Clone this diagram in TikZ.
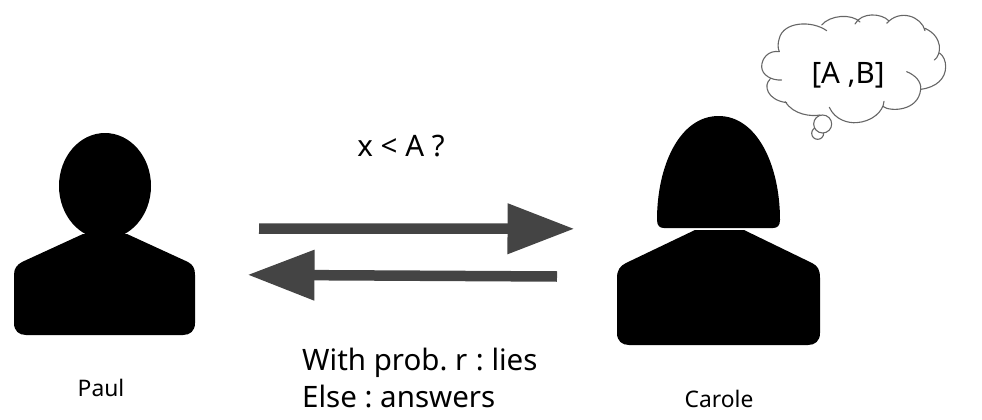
\documentclass[tikz,border=0pt]{standalone}
\usepackage{fontspec}
\setmainfont{Noto Sans}
\usetikzlibrary{arrows.meta}
\definecolor{arrowgrey}{HTML}{444444}
\definecolor{cloudgrey}{HTML}{666666}
\frenchspacing
\tikzset{
  figure/.style={fill=black,draw=none},
  namelabel/.style={font=\fontsize{22.8}{26}\selectfont,inner sep=0pt,text=black},
  saylabel/.style={font=\fontsize{29.5}{37}\selectfont,inner sep=0pt,text=black},
  bigarrow/.style={draw=arrowgrey,line width=10.5pt,-{Triangle[length=67pt,width=48pt,fill=arrowgrey]}},
  cloudline/.style={draw=cloudgrey,line width=1.1pt,line cap=round}
}
\begin{document}
\begin{tikzpicture}[x=1pt,y=-1pt]
\useasboundingbox (0,0) rectangle (982,420);
% Paul
\fill[figure] (14,275) .. controls (14,268) and (17,265) .. (22,262) -- (83,234) -- (127,234) -- (188,262) .. controls (193,265) and (195,268) .. (195,275) -- (195,323) .. controls (195,331) and (190,335) .. (183,335) -- (26,335) .. controls (19,335) and (14,331) .. (14,323) -- cycle;
\fill[figure] (105,186) ellipse [x radius=46, y radius=53];
% Carole
\fill[figure] (617,278) .. controls (617,270) and (620,266) .. (626,263) -- (695,230) -- (744,230) -- (812,263) .. controls (818,266) and (820,270) .. (820,278) -- (820,333) .. controls (820,341) and (815,345) .. (808,345) -- (629,345) .. controls (622,345) and (617,341) .. (617,333) -- cycle;
\fill[figure] (657,220) .. controls (657,165) and (680,116) .. (718.5,116) .. controls (757,116) and (780,165) .. (780,220) .. controls (780,226) and (777,228) .. (773,228) -- (664,228) .. controls (660,228) and (657,226) .. (657,220) -- cycle;
% Arrows
\coordinate (q1) at (259,228.5);
\coordinate (q2) at (574.5,228.8);
\coordinate (a1) at (557,276.5);
\coordinate (a2) at (247.5,274.8);
\draw[bigarrow] (q1) -- (q2);
\draw[bigarrow] (a1) -- (a2);
% Cloud
\begin{scope}[shift={(740,0)},scale=1/3]
\draw[cloudline]
 (118,155) .. controls (85,150) and (65,175) .. (65,200) .. controls (65,225) and (95,242) .. (125,240)
 (90,238) .. controls (70,255) and (80,300) .. (140,308)
 (136,305) .. controls (160,345) and (215,350) .. (240,345)
 (268,322) .. controls (285,360) and (325,370) .. (350,368) .. controls (395,365) and (430,335) .. (432,304)
 (430,320) .. controls (450,335) and (535,335) .. (542,268) .. controls (545,245) and (525,225) .. (500,215)
 (542,268) .. controls (590,262) and (617,235) .. (617,200) .. controls (617,182) and (610,168) .. (600,160)
 (583,180) .. controls (605,165) and (610,110) .. (555,85)
 (555,92) .. controls (545,50) and (480,25) .. (440,70)
 (446,62) .. controls (425,40) and (365,35) .. (345,72)
 (360,66) .. controls (335,40) and (270,45) .. (245,75)
 (260,92) .. controls (215,60) and (130,65) .. (118,115) .. controls (113,130) and (113,145) .. (118,155);
\draw[cloudline,fill=white] (233,400) circle [radius=18];
\draw[cloudline,fill=white] (248,372) circle [radius=27];
\end{scope}
% Texts
\node[saylabel,anchor=base] (cloudtext) at (848,83) {[A ,B]};
\node[saylabel,anchor=base] (question) at (401,156) {x < A ?};
\node[saylabel,anchor=base west] (lies) at (302,370) {With prob.\ r\kern1pt{} : lies};
\node[saylabel,anchor=base west] (answers) at (302,407) {Else : answers};
\node[namelabel,anchor=base] (paul) at (101,396) {Paul};
\node[namelabel,anchor=base] (carole) at (719,407) {Carole};
\end{tikzpicture}
\end{document}
